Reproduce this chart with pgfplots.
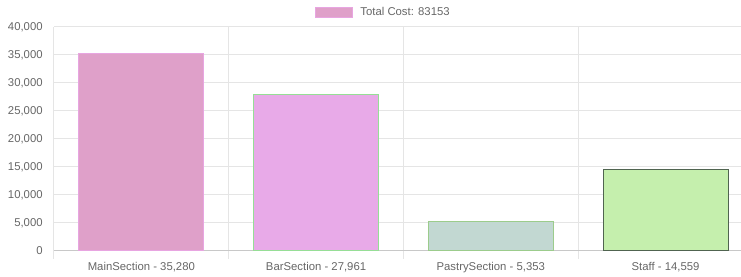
\documentclass[border=0pt]{standalone}
\usepackage{pgfplots}
\pgfplotsset{compat=1.18}
\usepackage{fontspec}
\setmainfont{Liberation Sans}
\definecolor{tickc}{RGB}{102,102,102}
\definecolor{gridc}{RGB}{229,229,229}
\definecolor{axisc}{RGB}{200,200,200}
\definecolor{f1}{RGB}{223,160,201}
\definecolor{d1}{RGB}{232,165,225}
\definecolor{f2}{RGB}{232,170,232}
\definecolor{d2}{RGB}{150,222,150}
\definecolor{f3}{RGB}{194,216,210}
\definecolor{d3}{RGB}{156,204,140}
\definecolor{f4}{RGB}{197,239,173}
\definecolor{d4}{RGB}{80,100,80}
\begin{document}
\begin{tikzpicture}
\begin{axis}[
  name=ax,
  scale only axis,
  width=515.25pt, height=168pt,
  xmin=-0.5, xmax=3.432,
  ymin=0, ymax=40000,
  ytick={0,5000,...,40000},
  xtick={0,1,2,3},
  xticklabels={MainSection - 35{,}280, BarSection - 27{,}961, PastrySection - 5{,}353, Staff - 14{,}559},
  minor xtick={-0.5,0.5,1.5,2.5},
  xminorgrids=true, ymajorgrids=true,
  grid style={draw=gridc, line width=0.75pt},
  minor grid style={draw=gridc, line width=0.75pt},
  tick align=outside,
  major tick length=0pt,
  minor tick length=6pt,
  ytick style={draw=gridc, line width=0.75pt},
  xtick style={draw=gridc, line width=0.75pt},
  axis x line*=bottom, axis y line*=left,
  x axis line style={-, draw=axisc, line width=0.75pt},
  y axis line style={-, draw=gridc, line width=0.75pt},
  scaled y ticks=false,
  /pgf/number format/.cd, 1000 sep={,}, assume math mode=true,
  /pgfplots/.cd,
  ticklabel style={font=\fontsize{8.5}{10}\selectfont, text=tickc},
  yticklabel style={xshift=-5pt},
  xticklabel style={yshift=-5pt},
  ybar, bar width=0.7155, bar shift=0pt,
  legend style={at={(axis description cs:0.3799,1.065)}, anchor=west, draw=none, fill=none,
    font=\fontsize{8.5}{10}\selectfont, text=tickc, inner sep=0pt},
  legend image code/.code={\path[draw=none,fill=none] (0pt,0pt) -- (31.5pt,0pt);\draw[fill=f1, draw=d1, line width=0.75pt] (0pt,-3.9pt) rectangle (27.75pt,3.9pt);},
]
\addplot[fill=f1, draw=d1, line width=0.75pt] coordinates {(0,35280)};
\addlegendentry{Total Cost: 83153}
\addplot[fill=f2, draw=d2, line width=0.75pt, forget plot] coordinates {(1,27961)};
\addplot[fill=f3, draw=d3, line width=0.75pt, forget plot] coordinates {(2,5353)};
\addplot[fill=f4, draw=d4, line width=0.75pt, forget plot] coordinates {(3,14559)};
\end{axis}
\pgfresetboundingbox
\path[use as bounding box] ([xshift=-40.5pt,yshift=-19.5pt]ax.south west) rectangle ++(555.75pt,207.75pt);
\end{tikzpicture}
\end{document}
